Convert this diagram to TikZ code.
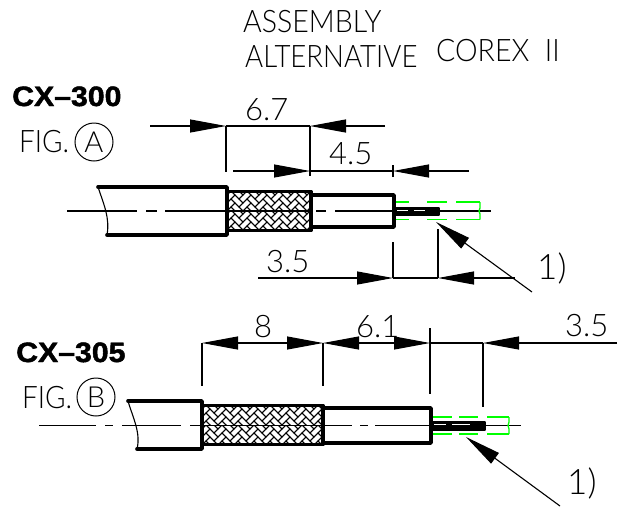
\documentclass[tikz,border=0pt]{standalone}
\usepackage{fontspec}
\usepackage{tikz}
\usetikzlibrary{arrows.meta,positioning}
\newfontfamily\cadfont{Lato}[UprightFont=* Light]
\newfontfamily\boldfont{Liberation Sans Bold}[FakeBold=1.6]

\begin{document}
\begin{tikzpicture}[x=1pt,y=-1pt]
	\tikzstyle{Label}	= [inner sep=0pt, anchor=base west, font=\cadfont\fontsize{31}{31}\selectfont]
	\tikzstyle{Paren}	= [inner sep=0pt, anchor=base west, font=\cadfont\fontsize{35}{35}\selectfont]
	\tikzstyle{Model}	= [inner sep=0pt, anchor=base west, xscale=1.08, font=\boldfont\fontsize{28}{28}\selectfont]
	\tikzstyle{Badge}	= [circle, draw, line width=1pt, minimum size=38pt, inner sep=0pt, font=\cadfont\fontsize{29}{29}\selectfont]
	\tikzstyle{Cable}	= [line width=3.6pt, line join=round, line cap=round]
	\tikzstyle{Pin}		= [line width=2pt, line join=round, fill=black]
	\tikzstyle{Thin}	= [line width=1.1pt]
	\tikzstyle{Dim}		= [line width=1.1pt, -{Triangle[length=36pt,width=13pt]}]
	\tikzstyle{Spare}	= [line width=1.9pt, color=green]
	\tikzstyle{Brick}	= [line width=.9pt]

	\useasboundingbox (0,0) rectangle (621,507);

	% texts
	\node (asm) at (243,32) [Label, xscale=.92] {ASSEMBLY};
	\node (alt) at (245,67) [Label, xscale=.89] {ALTERNATIVE};
	\node (cor) at (436,61) [Label, xscale=.92] {COREX\ \ II};
	\node (cxa) at (12,106) [Model] {CX\textendash300};
	\node (cxb) at (16,362) [Model] {CX\textendash305};
	\node (figa) at (19,152) [Label, xscale=.9] {FIG.};
	\node (figb) at (22,408) [Label, xscale=.9] {FIG.};
	\node (bada) at (94,142) [Badge] {A};
	\node (badb) at (96,397) [Badge] {B};
	\foreach \n/\x/\y/\t in {da/245/120/6.7, db/329/164/4.5, dc/266/272/3.5, dd/254/337/8, de/356/337/6.1, df/565/336/3.5}
		\node (\n) at (\x,\y) [Label] {\t};
	\node (ra) at (537,279) [Paren] {1)};
	\node (rb) at (567,494) [Paren] {1)};

	% braid, two rows each
	\foreach \xa/\xb/\ya/\yb/\n in {227/311/192/211/5, 227/311/211/230/5, 202/323/406/425/8, 202/323/425/445/8} {
		\begin{scope}
			\clip (\xa,\ya) rectangle (\xb,\yb);
			\begin{scope}[shift={(\xa,\yb)}, x={(4pt,4pt)}, y={(-4pt,4pt)}]
				\foreach \i in {-2,...,4}
					\foreach \j in {-1,...,\n} {
						\draw [Brick] (\i+2*\j,\i-2*\j) -- ++(2,0) -- ++(0,1) -- ++(-2,0) -- cycle;
						\draw [Brick] (\i+2*\j,\i-2*\j+1) -- ++(1,0) -- ++(0,2) -- ++(-1,0) -- cycle;
					}
			\end{scope}
		\end{scope}
	}

	% centre lines
	\foreach \a/\b in {67/137, 146/157, 165/311, 316/326, 335/394, 439/491}
		\draw [Thin] (\a,211) -- (\b,211);
	\foreach \a/\b in {39/96, 105/113, 122/181, 190/323, 325/352, 360/368, 375/431, 485/521}
		\draw [Thin] (\a,425.5) -- (\b,425.5);

	% cable A
	\draw [Cable] (98,187) -- (227,187) -- (227,235) -- (107,235);
	\draw [Thin] (98,187) .. controls (104,205) and (110,218) .. (107,235);
	\draw [Cable] (227,191.5) -- (311,191.5) -- (311,230.5) -- (227,230.5);
	\draw [Cable] (311,195) -- (394,195) -- (394,227) -- (311,227);
	\draw [Pin] (394,207.5) -- (439,207.5) -- (439,214.5) -- (394,214.5) -- cycle;
	\foreach \a/\b in {397/408, 414/425}
		\draw [line width=1.3pt, white] (\a,210.5) -- (\b,210.5);

	% cable B
	\draw [Cable] (128,401) -- (202,401) -- (202,449) -- (137,449);
	\draw [Thin] (128,401) .. controls (133,418) and (141,433) .. (137,449);
	\draw [Cable] (202,405.5) -- (323,405.5) -- (323,444.5) -- (202,444.5);
	\draw [Cable] (323,408) -- (431,408) -- (431,443) -- (323,443);
	\draw [Pin] (431,421.5) -- (485,421.5) -- (485,429.5) -- (431,429.5) -- cycle;
	\foreach \a/\b in {434/446, 452/470}
		\draw [line width=1.3pt, white] (\a,424.5) -- (\b,424.5);

	% spare length in green
	\foreach \a/\b in {396/409, 427/447, 456/480} {
		\draw [Spare] (\a,202) -- (\b,202);
		\draw [Spare] (\a,219.5) -- (\b,219.5);
	}
	\draw [Spare, line width=1.3pt] (480,202) -- (480,208) -- (479,211) -- (480,214) -- (480,219.5);
	\foreach \a/\b in {433/452, 459/478, 487/509} {
		\draw [Spare] (\a,417) -- (\b,417);
		\draw [Spare] (\a,434) -- (\b,434);
	}
	\draw [Spare, line width=1.3pt] (509,417) -- (509,422) -- (508,425.5) -- (509,429) -- (509,434);

	% dimension points
	\foreach \n/\x/\y in {a1/150/126, a2/226/126, a3/310/126, a4/385/126, a5/233/171, a6/310/171, a7/393/171, a8/469/171, a9/258/278, a10/393/278, a11/438/278, a12/515/278, a13/226/172, a14/310/176, a15/393/165, a16/393/177, a17/393/242, a18/438/229, a19/532/292, a20/436/222}
		\coordinate (\n) at (\x,\y);
	\foreach \n/\x/\y in {b1/278/343, b2/202/343, b3/323/343, b4/358/343, b5/430/343, b6/483/343, b7/617/343, b8/202/386, b9/323/386, b10/430/328, b11/430/394, b12/483/407, b13/560/506, b14/466/437}
		\coordinate (\n) at (\x,\y);

	\draw [Dim] (a1) to (a2);
	\draw [Dim] (a4) to (a3);
	\draw [Thin] (a2) to (a3);
	\draw [Dim] (a5) to (a6);
	\draw [Dim] (a8) to (a7);
	\draw [Thin] (a6) to (a7);
	\draw [Dim] (a9) to (a10);
	\draw [Thin] (a10) to (a11);
	\draw [Dim] (a12) to (a11);
	\draw [Dim] (a19) to (a20);
	\foreach \s/\e in {a2/a13, a3/a14, a15/a16, a17/a10, a18/a11}
		\draw [Thin] (\s) to (\e);

	\draw [Dim] (b1) to (b2);
	\draw [Dim] (b1) to (b3);
	\draw [Dim] (b4) to (b3);
	\draw [Dim] (b4) to (b5);
	\draw [Thin] (b5) to (b6);
	\draw [Dim] (b7) to (b6);
	\draw [Dim] (b13) to (b14);
	\foreach \s/\e in {b2/b8, b3/b9, b10/b11, b6/b12}
		\draw [Thin] (\s) to (\e);
\end{tikzpicture}
\end{document}
